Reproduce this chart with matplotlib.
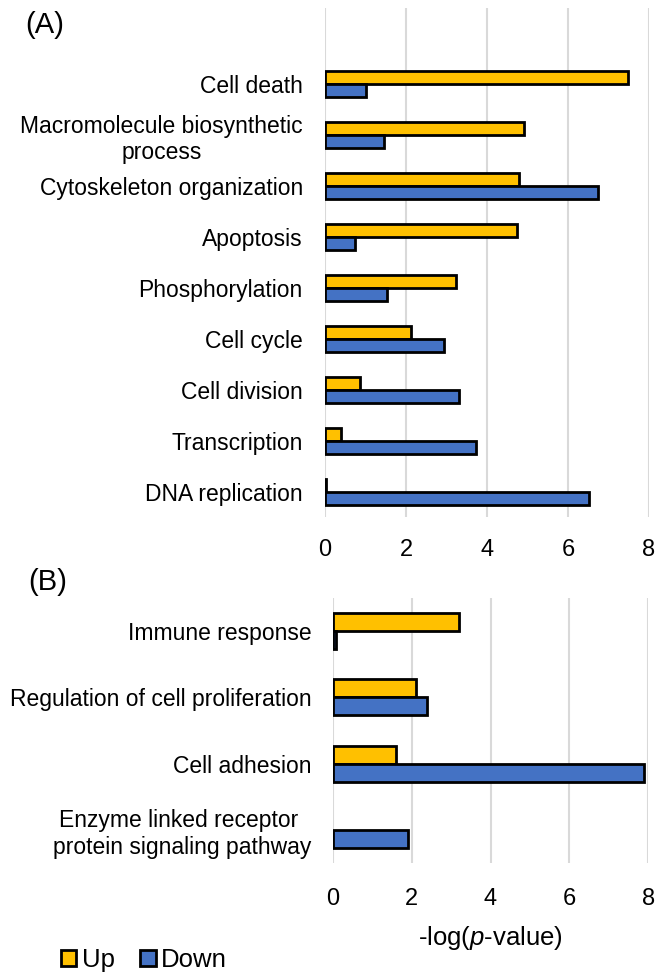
import numpy as np
import matplotlib
matplotlib.use("Agg")
import matplotlib.pyplot as plt
from matplotlib.patches import Patch

plt.rcParams['font.family'] = ['Liberation Sans', 'DejaVu Sans']
plt.rcParams['mathtext.fontset'] = 'custom'
plt.rcParams['mathtext.rm'] = 'Liberation Sans'
plt.rcParams['mathtext.it'] = 'Liberation Sans:italic'

# panel A
terms_a = ["Cell death", "Macromolecule biosynthetic\nprocess", "Cytoskeleton organization",
           "Apoptosis", "Phosphorylation", "Cell cycle", "Cell division",
           "Transcription", "DNA replication"]
up_a = [7.49, 4.91, 4.79, 4.75, 3.23, 2.12, 0.86, 0.40, 0.02]
down_a = [1.01, 1.46, 6.75, 0.74, 1.54, 2.94, 3.32, 3.74, 6.51]

# panel B
terms_b = ["Immune response", "Regulation of cell proliferation", "Cell adhesion",
           "Enzyme linked receptor \nprotein signaling pathway"]
up_b = [3.20, 2.10, 1.60, 0.0]
down_b = [0.09, 2.38, 7.90, 1.92]

xticks = [0, 2, 4, 6, 8]

c_up = '#FFC000'
c_down = '#4472C4'
grid_c = '#D9D9D9'
W, H = 665, 975

fig = plt.figure(figsize=(W / 100, H / 100), dpi=100)


def draw(ax, terms, up, down, bh, offset, pad_y, pad_x):
    n = len(terms)
    pos = np.arange(n) + offset
    # no outline for empty bars
    lw_up = [2 if v > 0 else 0 for v in up]
    lw_down = [2 if v > 0 else 0 for v in down]
    ax.barh(pos - bh / 2, up, height=bh, color=c_up, edgecolor='black', linewidth=lw_up, zorder=3)
    ax.barh(pos + bh / 2, down, height=bh, color=c_down, edgecolor='black', linewidth=lw_down, zorder=3)
    ax.set_xlim(0, 8)
    ax.set_xticks(xticks)
    ax.set_yticks(pos)
    ax.set_yticklabels(terms, fontsize=16.5, multialignment='center')
    ax.tick_params(axis='x', labelsize=17, length=0, pad=pad_x)
    ax.tick_params(axis='y', length=0, pad=pad_y)
    for s in ax.spines.values():
        s.set_visible(False)
    ax.grid(axis='x', color=grid_c, linewidth=1.5, zorder=0)
    ax.set_axisbelow(True)
    return n


ax1 = fig.add_axes([325 / W, 1 - 517 / H, (649 - 325) / W, (517 - 8) / H])
n1 = draw(ax1, terms_a, up_a, down_a, 0.255, 1, 16, 16)
ax1.set_ylim(n1 + 0.5, -0.5)

ax2 = fig.add_axes([332.7 / W, 1 - 863 / H, (648.3 - 332.7) / W, (863 - 598) / H])
n2 = draw(ax2, terms_b, up_b, down_b, 0.27, 0, 15.5, 18)
ax2.set_ylim(n2 - 0.5, -0.5)

fig.text(25 / W, 1 - 25 / H, "(A)", fontsize=21, ha='left', va='center')
fig.text(28 / W, 1 - 582 / H, "(B)", fontsize=21, ha='left', va='center')
fig.text(490 / W, 1 - 938 / H, r"-log($\it{p}$-value)", fontsize=18.5, ha='center', va='center')

handles = [Patch(facecolor=c_up, edgecolor='black', linewidth=2, label='Up'),
           Patch(facecolor=c_down, edgecolor='black', linewidth=2, label='Down')]
fig.legend(handles=handles, loc='center left', bbox_to_anchor=(61 / W, 1 - 960 / H),
           ncol=2, frameon=False, fontsize=18.5, borderpad=0, borderaxespad=0,
           handlelength=0.6, handleheight=0.6, handletextpad=0.2, columnspacing=1.0)

plt.savefig('out.png', dpi=100)
